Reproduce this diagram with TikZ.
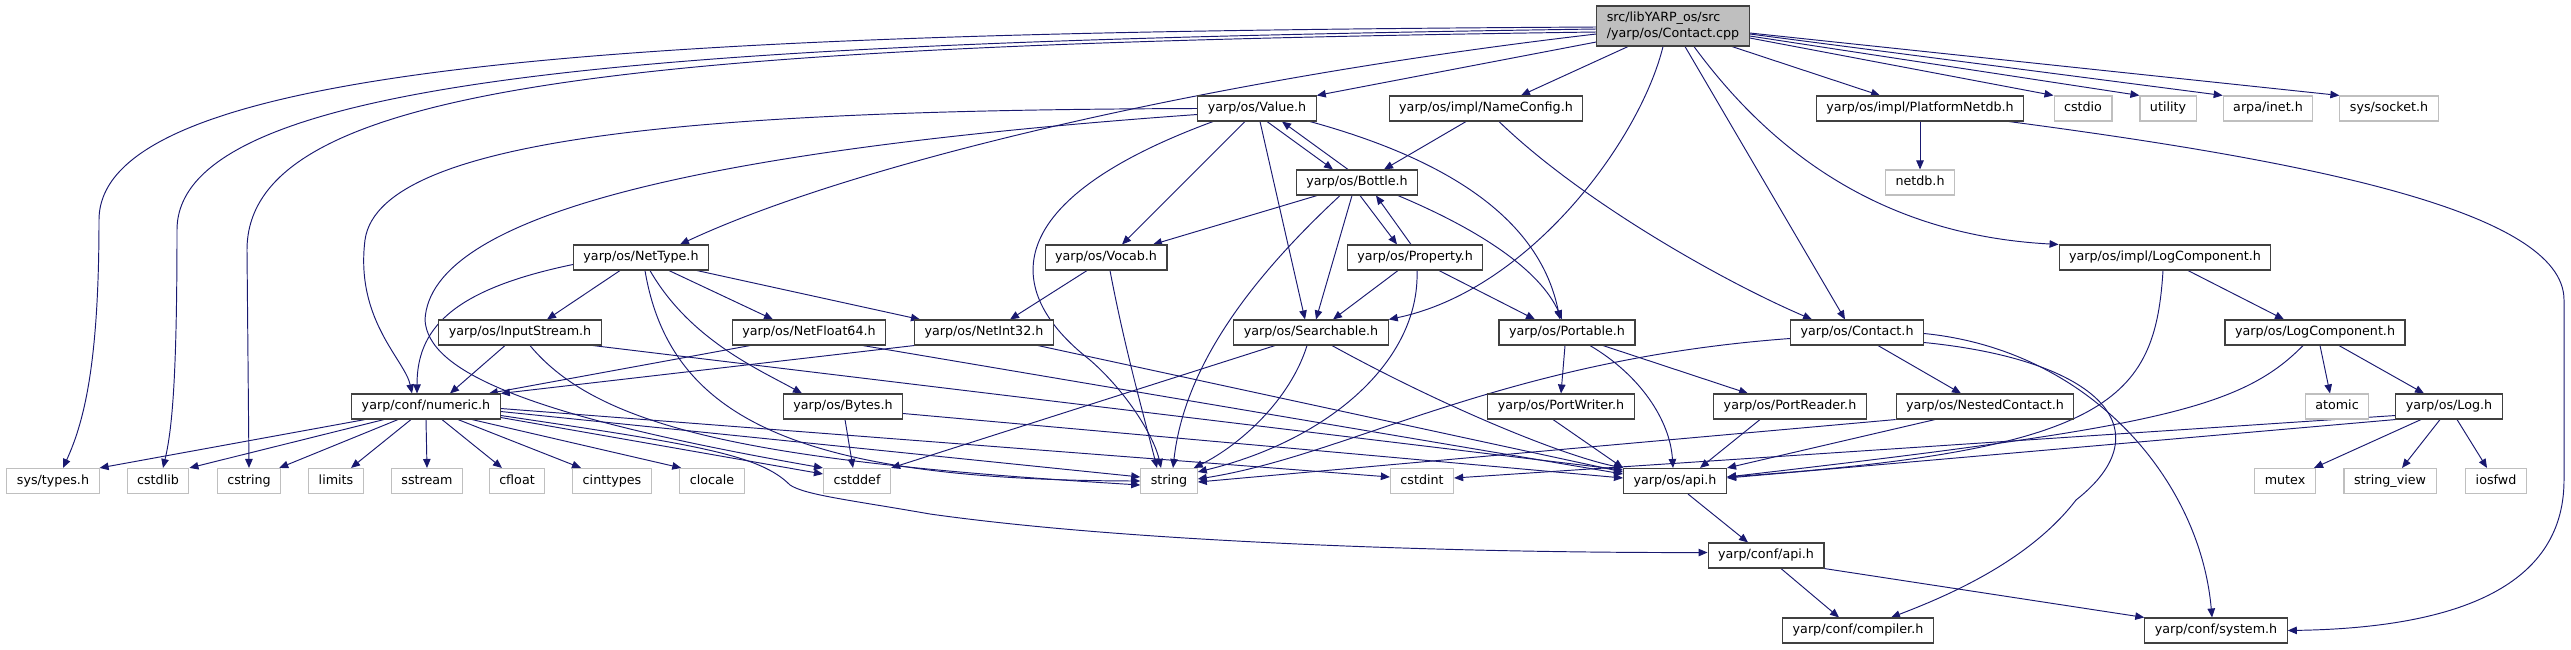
\documentclass[tikz,border=0pt]{standalone}
\usepackage{fontspec}
\setmainfont{DejaVu Sans}
\usetikzlibrary{arrows.meta,backgrounds}

\definecolor{edgeblue}{HTML}{191970}
\definecolor{boxgrey}{HTML}{404040}
\definecolor{sysgrey}{HTML}{BFBFBF}

\begin{document}
\begin{tikzpicture}[x=1pt, y=-1pt,
  font=\fontsize{12.7}{16}\selectfont,
  file/.style={draw=boxgrey, line width=1.1pt, fill=white, minimum height=25pt,
    inner xsep=10pt, inner ysep=2pt, text height=9.6pt, text depth=3pt},
  sys/.style={file, draw=sysgrey},
  top/.style={draw=boxgrey, line width=1.1pt, fill=sysgrey, minimum height=40pt,
    inner xsep=10pt, align=left},
  dep/.style={color=edgeblue, line width=0.95pt, -{Triangle[length=9pt, width=7.5pt]}}]
  \useasboundingbox (0,0) rectangle (2571,649);

  % the file itself
  \node[top] (head) at (1673,26) {src/libYARP\_os/src\\/yarp/os/Contact.cpp};

  % headers
  \node[file] (value) at (1257,108.5) {yarp/os/Value.h};
  \node[file] (nameconfig) at (1486,108.5) {yarp/os/impl/NameConfig.h};
  \node[file] (platnetdb) at (1920,108.5) {yarp/os/impl/PlatformNetdb.h};
  \node[sys] (cstdio) at (2083,108.5) {cstdio};
  \node[sys] (utility) at (2168,108.5) {utility};
  \node[sys] (arpainet) at (2268,108.5) {arpa/inet.h};
  \node[sys] (syssocket) at (2389,108.5) {sys/socket.h};
  \node[file] (bottle) at (1357,182.5) {yarp/os/Bottle.h};
  \node[sys] (netdb) at (1920,182.5) {netdb.h};
  \node[file] (nettype) at (641,257.5) {yarp/os/NetType.h};
  \node[file] (vocab) at (1106,257.5) {yarp/os/Vocab.h};
  \node[file] (property) at (1415,257.5) {yarp/os/Property.h};
  \node[file] (impllog) at (2165,257.5) {yarp/os/impl/LogComponent.h};
  \node[file] (inputstream) at (520,332.5) {yarp/os/InputStream.h};
  \node[file] (netfloat) at (809,332.5) {yarp/os/NetFloat64.h};
  \node[file] (netint) at (984,332.5) {yarp/os/NetInt32.h};
  \node[file] (searchable) at (1311,332.5) {yarp/os/Searchable.h};
  \node[file] (portable) at (1567,332.5) {yarp/os/Portable.h};
  \node[file] (contacth) at (1857,332.5) {yarp/os/Contact.h};
  \node[file] (logcomp) at (2315,332.5) {yarp/os/LogComponent.h};
  \node[file] (numeric) at (426,406.5) {yarp/conf/numeric.h};
  \node[file] (bytes) at (843,406.5) {yarp/os/Bytes.h};
  \node[file] (portwriter) at (1561,406.5) {yarp/os/PortWriter.h};
  \node[file] (portreader) at (1790,406.5) {yarp/os/PortReader.h};
  \node[file] (nested) at (1985,406.5) {yarp/os/NestedContact.h};
  \node[sys] (atomic) at (2337,406.5) {atomic};
  \node[file] (logh) at (2449,406.5) {yarp/os/Log.h};

  % system headers
  \node[sys] (systypes) at (53,481) {sys/types.h};
  \node[sys] (cstdlib) at (158,481) {cstdlib};
  \node[sys] (cstring) at (249,481) {cstring};
  \node[sys] (limits) at (336,481) {limits};
  \node[sys] (sstream) at (427,481) {sstream};
  \node[sys] (cfloat) at (517,481) {cfloat};
  \node[sys] (cinttypes) at (612,481) {cinttypes};
  \node[sys] (clocale) at (712,481) {clocale};
  \node[sys] (cstddef) at (857,481) {cstddef};
  \node[sys] (string) at (1169,481) {string};
  \node[sys] (cstdint) at (1422,481) {cstdint};
  \node[file] (osapi) at (1675,481) {yarp/os/api.h};
  \node[sys] (mutex) at (2285,481) {mutex};
  \node[sys] (stringview) at (2390,481) {string\_view};
  \node[sys] (iosfwd) at (2496,481) {iosfwd};
  \node[file] (confapi) at (1766,555.5) {yarp/conf/api.h};
  \node[file] (compiler) at (1858,630.5) {yarp/conf/compiler.h};
  \node[file] (system) at (2216,630.5) {yarp/conf/system.h};

  \begin{scope}[on background layer]
  % straight includes
  \path[dep]
    ([yshift=-16pt]head.west) edge (value.north east)
    ([xshift=-45pt]head.south) edge ([xshift=35pt]nameconfig.north)
    ([xshift=12pt]head.south) edge ([xshift=-12pt]contacth.north)
    ([xshift=59pt]head.south) edge ([xshift=-40pt]platnetdb.north)
    ([yshift=-12pt]head.east) edge (cstdio.north west)
    ([yshift=-10pt]head.east) edge (utility.north west)
    ([yshift=-8pt]head.east) edge (arpainet.north west)
    ([yshift=-7pt]head.east) edge (syssocket.north west)
    ([xshift=-12pt]value.south) edge ([xshift=16pt]vocab.north)
    ([xshift=3pt]value.south) edge ([xshift=-6pt]searchable.north)
    ([xshift=10pt]value.south) edge ([xshift=-24pt]bottle.north)
    ([xshift=-9pt]bottle.north) edge ([xshift=25pt]value.south)
    ([xshift=-20pt]nameconfig.south) edge ([xshift=27pt]bottle.north)
    (platnetdb.south) edge (netdb.north)
    ([xshift=-40pt]bottle.south) edge ([xshift=47pt]vocab.north)
    ([xshift=-5pt]bottle.south) edge ([xshift=5pt]searchable.north)
    ([xshift=3pt]bottle.south) edge ([xshift=-18pt]property.north)
    ([xshift=-4pt]property.north) edge ([xshift=19pt]bottle.south)
    ([xshift=-19pt]vocab.south) edge ([xshift=26pt]netint.north)
    ([xshift=-17pt]property.south) edge ([xshift=22pt]searchable.north)
    ([xshift=24pt]property.south) edge ([xshift=-32pt]portable.north)
    ([xshift=23pt]impllog.south) edge ([xshift=-31pt]logcomp.north)
    ([xshift=-21pt]nettype.south) edge ([xshift=27pt]inputstream.north)
    ([xshift=28pt]nettype.south) edge ([xshift=-36pt]netfloat.north)
    ([xshift=56pt]nettype.south) edge ([xshift=-64pt]netint.north)
    ([xshift=-15pt]inputstream.south) edge ([xshift=24pt]numeric.north)
    ([xshift=73pt]inputstream.south) edge ([yshift=11pt]osapi.west)
    ([xshift=-59pt]netfloat.south) edge ([xshift=-12pt]numeric.north east)
    ([xshift=54pt]netfloat.south) edge ([yshift=7pt]osapi.west)
    (netint.south west) edge (numeric.north east)
    ([xshift=54pt]netint.south) edge ([yshift=9pt]osapi.west)
    ([xshift=2pt]bytes.south) edge ([xshift=-4pt]cstddef.north)
    ([yshift=-7pt]bytes.east) edge ([yshift=3pt]osapi.west)
    ([xshift=-36pt]searchable.south) edge (cstddef.north east)
    ([xshift=-2pt]portable.south) edge (portwriter.north)
    ([xshift=36pt]portable.south) edge ([xshift=-42pt]portreader.north)
    ([xshift=-8pt]portwriter.south) edge ([xshift=-52pt]osapi.north)
    ([xshift=-30pt]portreader.south) edge ([xshift=25pt]osapi.north)
    ([xshift=21pt]contacth.south) edge ([xshift=-24pt]nested.north)
    (nested.south west) edge ([yshift=-1pt]string.east)
    ([xshift=-50pt]nested.south) edge (osapi.north east)
    ([xshift=5pt]logcomp.south) edge ([xshift=-7pt]atomic.north)
    ([xshift=24pt]logcomp.south) edge ([xshift=-25pt]logh.north)
    (logh.south west) edge ([yshift=3pt]osapi.east)
    ([yshift=-9pt]logh.west) edge ([yshift=3pt]cstdint.east)
    ([xshift=-28pt]logh.south) edge ([xshift=29pt]mutex.north)
    ([xshift=-9pt]logh.south) edge ([xshift=12pt]stringview.north)
    ([xshift=8pt]logh.south) edge ([xshift=-9pt]iosfwd.north)
    ([xshift=-61pt]numeric.south) edge (systypes.north east)
    ([xshift=-42pt]numeric.south) edge (cstdlib.north east)
    ([xshift=-28pt]numeric.south) edge ([xshift=-2pt]cstring.north east)
    ([xshift=-15pt]numeric.south) edge ([xshift=15pt]limits.north)
    (numeric.south) edge (sstream.north)
    ([xshift=16pt]numeric.south) edge ([xshift=-15pt]cfloat.north)
    ([xshift=32pt]numeric.south) edge ([xshift=-31pt]cinttypes.north)
    ([xshift=46pt]numeric.south) edge ([xshift=2pt]clocale.north west)
    ([yshift=-11pt]numeric.east) edge ([yshift=7pt]cstddef.west)
    ([yshift=-5pt]numeric.east) edge ([yshift=4pt]string.west)
    ([yshift=-2pt]numeric.east) edge ([yshift=4pt]cstdint.west)
    ([xshift=13pt]osapi.south) edge ([xshift=-18pt]confapi.north)
    ([xshift=15pt]confapi.south) edge ([xshift=-19pt]compiler.north)
    (confapi.south east) edge (system.north west);

  % long routed includes
  \draw[dep] ([yshift=-1pt]head.west) .. controls (700,32) and (99,55) .. (99,220)
    .. controls (99,360) and (85,420) .. ([xshift=10pt]systypes.north);
  \draw[dep] ([yshift=-3pt]head.west) .. controls (700,42) and (177,70) .. (177,230)
    .. controls (177,380) and (172,430) .. ([xshift=5pt]cstdlib.north);
  \draw[dep] ([yshift=-6pt]head.west) .. controls (650,45) and (247,80) .. (247,250) -- (cstring.north);
  \draw[dep] ([yshift=-8pt]head.west) .. controls (1200,80) and (850,165) .. ([xshift=39pt]nettype.north);
  \draw[dep] ([xshift=-10pt]head.south) .. controls (1640,140) and (1530,290) .. (searchable.north east);
  \draw[dep] ([xshift=21pt]head.south) .. controls (1770,150) and (1880,235) .. (impllog.north west);
  \draw[dep] (value.west) .. controls (750,110) and (380,130) .. (365,240)
    .. controls (355,320) and (405,360) .. ([xshift=-14pt]numeric.north);
  \draw[dep] ([yshift=-6pt]value.west) .. controls (700,150) and (430,215) .. (425,320)
    .. controls (428,370) and (520,415) .. (cstddef.north west);
  \draw[dep] ([xshift=-44pt]value.south) .. controls (1000,200) and (1000,290) .. (1090,360)
    .. controls (1130,395) and (1155,440) .. ([xshift=-8pt]string.north);
  \draw[dep] ([xshift=53pt]value.south) .. controls (1450,160) and (1540,220) .. ([xshift=-7pt]portable.north);
  \draw[dep] ([xshift=13pt]nameconfig.south) .. controls (1580,200) and (1720,280) .. ([xshift=-45pt]contacth.north);
  \draw[dep] ([xshift=89pt]platnetdb.south) .. controls (2300,160) and (2564,210) .. (2564,300)
    -- (2564,480) .. controls (2564,590) and (2450,628) .. (system.east);
  \draw[dep] ([xshift=-17pt]bottle.south) .. controls (1260,270) and (1185,360) .. ([xshift=4pt]string.north);
  \draw[dep] ([xshift=41pt]bottle.south) .. controls (1480,230) and (1540,270) .. ([xshift=-5pt]portable.north);
  \draw[dep] ([xshift=4pt]vocab.south) .. controls (1125,350) and (1145,420) .. ([xshift=-12pt]string.north);
  \draw[dep] ([xshift=2pt]property.south) .. controls (1420,360) and (1330,440) .. ([yshift=-4pt]string.north east);
  \draw[dep] ([xshift=-2pt]impllog.south) .. controls (2155,400) and (2110,450) .. ([yshift=4pt]osapi.east);
  \draw[dep] ([yshift=-7pt]nettype.west) .. controls (450,290) and (417,330) .. ([xshift=-9pt]numeric.north);
  \draw[dep] ([xshift=4pt]nettype.south) .. controls (670,420) and (800,480) .. (string.west);
  \draw[dep] ([xshift=9pt]nettype.south) .. controls (690,340) and (760,370) .. ([xshift=-41pt]bytes.north);
  \draw[dep] ([xshift=10pt]inputstream.south) .. controls (600,430) and (760,462) .. ([yshift=-4pt]string.west);
  \draw[dep] ([xshift=-4pt]searchable.south) .. controls (1290,400) and (1240,445) .. ([xshift=-4pt]string.north east);
  \draw[dep] ([xshift=21pt]searchable.south) .. controls (1440,405) and (1560,455) .. (osapi.north west);
  \draw[dep] ([xshift=23pt]portable.south) .. controls (1640,375) and (1670,420) .. ([xshift=-2pt]osapi.north);
  \draw[dep] ([yshift=-6pt]contacth.west) .. controls (1500,360) and (1350,455) .. ([yshift=2pt]string.east);
  \draw[dep] ([yshift=-1pt]contacth.east) .. controls (2090,350) and (2200,480) .. ([xshift=-4pt]system.north);
  \draw[dep] ([yshift=-10pt]contacth.east) .. controls (2100,360) and (2165,430) .. (2076,500)
    .. controls (2030,560) and (1950,595) .. ([xshift=33pt]compiler.north);
  \draw[dep] ([xshift=-12pt]logcomp.south) .. controls (2240,410) and (2150,428) .. ([yshift=4pt]osapi.east);
  \draw[dep] ([yshift=-9pt]numeric.east) .. controls (700,445) and (760,455) .. (790,485)
    .. controls (805,495) and (850,500) .. (930,514)
    .. controls (1150,545) and (1500,553) .. ([yshift=3pt]confapi.west);
  \end{scope}
\end{tikzpicture}
\end{document}
